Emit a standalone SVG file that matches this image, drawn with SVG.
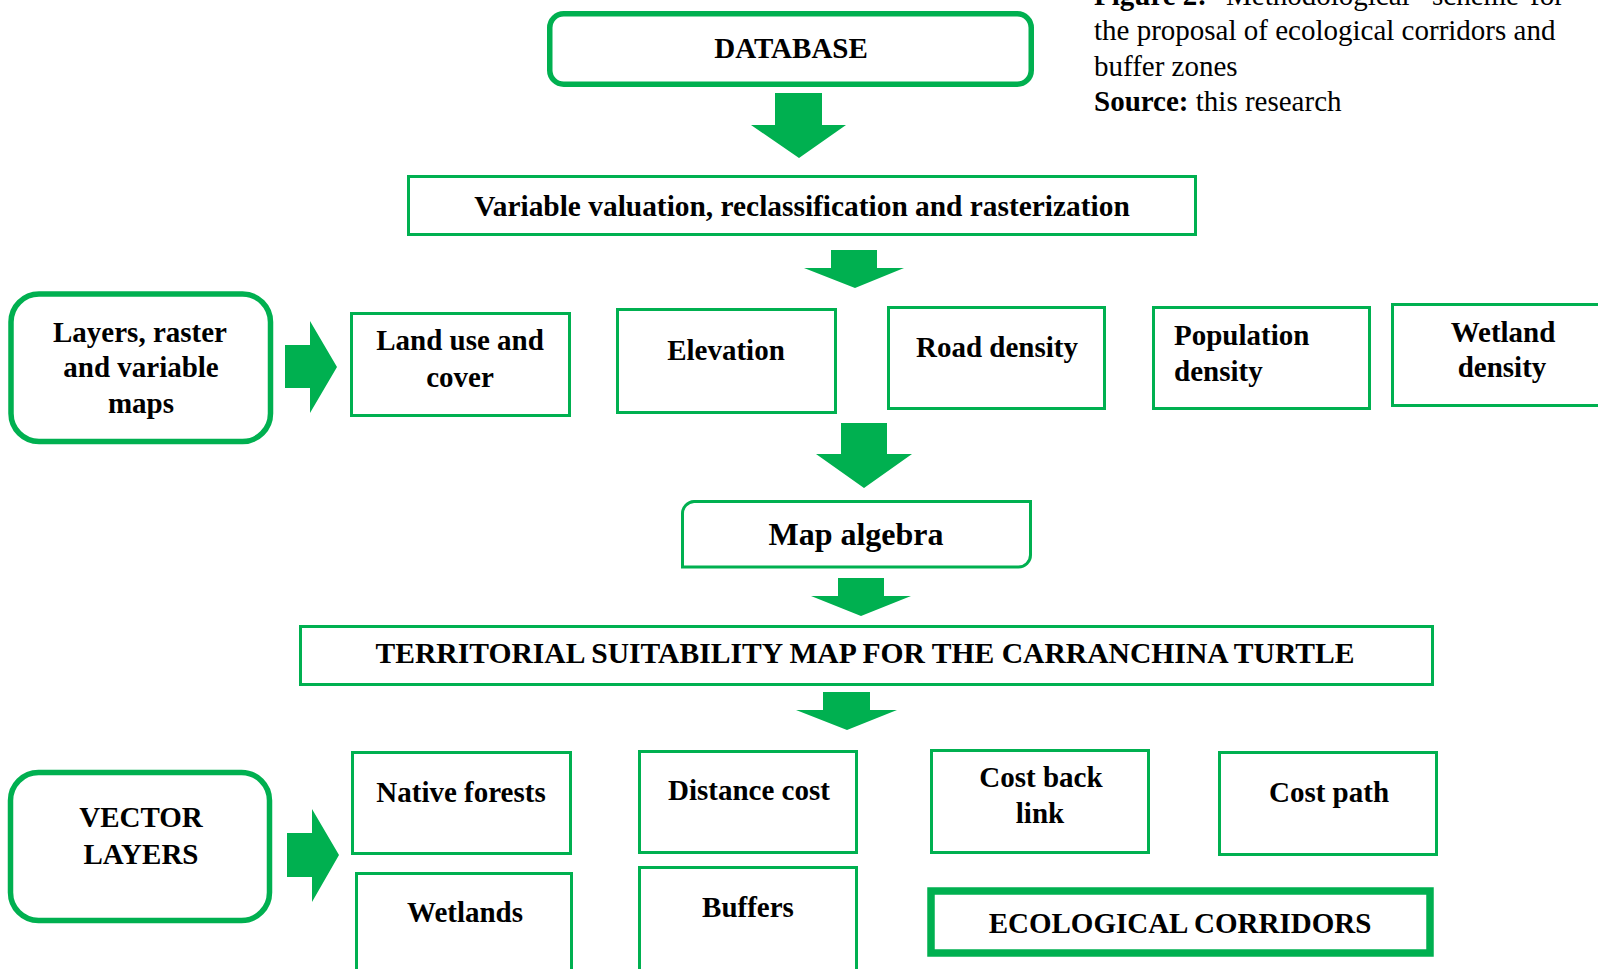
<svg xmlns="http://www.w3.org/2000/svg" width="1598" height="969" viewBox="0 0 1598 969">
<style>
.t{font-family:"Liberation Serif","Times New Roman",serif;font-weight:bold;font-size:29px;fill:#000;text-anchor:middle}
.ts{text-anchor:start}
.c{font-family:"Liberation Serif","Times New Roman",serif;font-size:29px;fill:#000}
.thin{fill:#fff;stroke:#00B050;stroke-width:3}
.thick{fill:#fff;stroke:#00B050;stroke-width:5.5}
.heavy{fill:#fff;stroke:#00B050;stroke-width:7.5}
.arr{fill:#00B050;stroke:none}
</style>
<rect width="1598" height="969" fill="#fff"/>
<g id="caption">
<text class="c" y="4.5"><tspan x="1094" font-weight="bold">Figure 2:</tspan><tspan x="1226">Methodological</tspan><tspan x="1432">scheme</tspan><tspan x="1530">for</tspan></text>
<text class="c" x="1094" y="40">the proposal of ecological corridors and</text>
<text class="c" x="1094" y="76">buffer zones</text>
<text class="c" x="1094" y="111"><tspan font-weight="bold">Source:</tspan> this research</text>
</g>
<g id="connectors">
<polygon class="arr" points="775,93 822,93 822,125 846,125 799,158 751,125 775,125"/>
<polygon class="arr" points="831,250 877,250 877,268 904,268 855,288 804,268 831,268"/>
<polygon class="arr" points="841,423 887,423 887,454 912,454 864,488 816,454 841,454"/>
<polygon class="arr" points="838,578 884,578 884,596 911,596 861,616 811,596 838,596"/>
<polygon class="arr" points="823,692 870,692 870,710 897,710 847,730 796,710 823,710"/>
<polygon class="arr" points="285,345 310,345 310,321 337,367 310,413 310,388 285,388"/>
<polygon class="arr" points="287,833 312,833 312,809 339,855 312,902 312,877 287,877"/>
</g>
<g id="database">
<rect class="thick" x="549.75" y="13.75" width="481.5" height="70.5" rx="14"/>
<text class="t" x="791" y="58">DATABASE</text>
</g>
<g id="variable">
<rect class="thin" x="408.5" y="176.5" width="787" height="58"/>
<text class="t" x="802" y="216" style="font-size:29.4px">Variable valuation, reclassification and rasterization</text>
</g>
<g id="layers">
<rect class="thick" x="11" y="294" width="259.5" height="147.5" rx="28"/>
<text class="t" x="140" y="342">Layers, raster</text>
<text class="t" x="141" y="377">and variable</text>
<text class="t" x="141" y="413">maps</text>
</g>
<g id="landuse">
<rect class="thin" x="351.5" y="313.5" width="218" height="102"/>
<text class="t" x="460" y="350">Land use and</text>
<text class="t" x="460" y="387">cover</text>
</g>
<g id="elevation">
<rect class="thin" x="617.5" y="309.5" width="218" height="103"/>
<text class="t" x="726" y="360">Elevation</text>
</g>
<g id="road">
<rect class="thin" x="888.5" y="307.5" width="216" height="101"/>
<text class="t" x="997" y="357">Road density</text>
</g>
<g id="population">
<rect class="thin" x="1153.5" y="307.5" width="216" height="101"/>
<text class="t ts" x="1174" y="345">Population</text>
<text class="t ts" x="1174" y="381">density</text>
</g>
<g id="wetland">
<rect class="thin" x="1392.5" y="304.5" width="220" height="101"/>
<text class="t" x="1503" y="342">Wetland</text>
<text class="t" x="1502" y="377">density</text>
</g>
<g id="mapalgebra">
<path class="thin" d="M694,501.5 H1030.5 V555 A12,12 0 0 1 1018.5,567 H682.5 V513.5 A12,12 0 0 1 694,501.5 Z"/>
<text class="t" x="856" y="545" style="font-size:32px">Map algebra</text>
</g>
<g id="territorial">
<rect class="thin" x="300.5" y="626.5" width="1132" height="58"/>
<text class="t" x="865" y="663" style="font-size:29.6px">TERRITORIAL SUITABILITY MAP FOR THE CARRANCHINA TURTLE</text>
</g>
<g id="vector">
<rect class="thick" x="10.5" y="772.5" width="259" height="148" rx="28"/>
<text class="t" x="141" y="827">VECTOR</text>
<text class="t" x="141" y="864">LAYERS</text>
</g>
<g id="native">
<rect class="thin" x="352.5" y="752.5" width="218" height="101"/>
<text class="t" x="461" y="802">Native forests</text>
</g>
<g id="wetlands">
<rect class="thin" x="356.5" y="873.5" width="215" height="110"/>
<text class="t" x="465" y="922">Wetlands</text>
</g>
<g id="distance">
<rect class="thin" x="639.5" y="751.5" width="217" height="101"/>
<text class="t" x="749" y="800">Distance cost</text>
</g>
<g id="buffers">
<rect class="thin" x="639.5" y="867.5" width="217" height="110"/>
<text class="t" x="748" y="917">Buffers</text>
</g>
<g id="backlink">
<rect class="thin" x="931.5" y="750.5" width="217" height="102"/>
<text class="t" x="1041" y="787">Cost back</text>
<text class="t" x="1040" y="823">link</text>
</g>
<g id="costpath">
<rect class="thin" x="1219.5" y="752.5" width="217" height="102"/>
<text class="t" x="1329" y="802">Cost path</text>
</g>
<g id="corridors">
<rect class="heavy" x="931" y="891" width="499" height="62"/>
<text class="t" x="1180" y="933">ECOLOGICAL CORRIDORS</text>
</g>
</svg>
